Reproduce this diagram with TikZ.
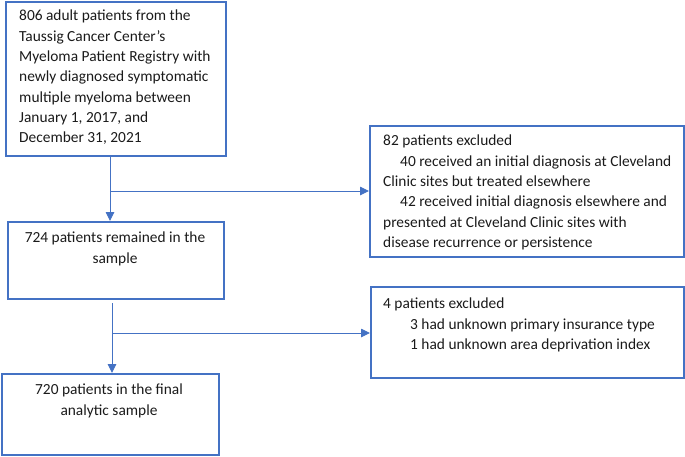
\documentclass[tikz,border=0pt]{standalone}
\usepackage{fontspec}
\setmainfont{Carlito}
\usetikzlibrary{arrows.meta}
\definecolor{bl}{HTML}{4472C4}
\definecolor{tx}{HTML}{1A1A1A}
\tikzset{
  boxs/.style={draw=bl, line width=1.6pt, rectangle, inner sep=0pt},
  txt/.style={inner sep=0pt, text=tx, font=\fontsize{15.4}{20.3}\selectfont},
  conn/.style={draw=bl, line width=0.9pt},
  arr/.style={conn, -{Triangle[length=9pt,width=8.5pt]}}
}
\begin{document}
\begin{tikzpicture}[x=1pt,y=-1pt]
\useasboundingbox (0,0) rectangle (685,456);
% boxes
\node[boxs, minimum width=220pt, minimum height=154pt, anchor=north west] (b1) at (5,1) {};
\node[boxs, minimum width=216pt, minimum height=77pt, anchor=north west] (b2) at (7,221) {};
\node[boxs, minimum width=314pt, minimum height=131pt, anchor=north west] (b3) at (369,125) {};
\node[boxs, minimum width=313pt, minimum height=91pt, anchor=north west] (b4) at (370,286) {};
\node[boxs, minimum width=217pt, minimum height=81pt, anchor=north west] (b5) at (1,373) {};
% texts
\node[txt, anchor=north west, align=left] (t1) at (19,10) {806 adult patients from the\\Taussig Cancer Center’s\\Myeloma Patient Registry with\\newly diagnosed symptomatic\\multiple myeloma between\\January 1, 2017, and\\December 31, 2021};
\node[txt, anchor=north, align=center] (t2) at (115,232) {724 patients remained in the\\sample};
\node[txt, anchor=north west, align=left] (t3) at (383,135) {82 patients excluded\\\hspace*{17pt}40 received an initial diagnosis at Cleveland\\Clinic sites but treated elsewhere\\\hspace*{17pt}42 received initial diagnosis elsewhere and\\presented at Cleveland Clinic sites with\\disease recurrence or persistence};
\node[txt, anchor=north west, align=left] (t4) at (383,298) {4 patients excluded\\\hspace*{27pt}3 had unknown primary insurance type\\\hspace*{27pt}1 had unknown area deprivation index};
\node[txt, anchor=north, align=center] (t5) at (109,384) {720 patients in the final\\analytic sample};
% connectors
\coordinate (s1) at (110,155);
\coordinate (e1) at (110,221);
\coordinate (j1) at (110,191);
\coordinate (s2) at (112,303);
\coordinate (e2) at (112,373);
\coordinate (j2) at (112,333);
\draw[arr] (s1) -- (e1);
\draw[arr] (j1) -- (j1 -| b3.west);
\draw[arr] (s2) -- (e2);
\draw[arr] (j2) -- (j2 -| b4.west);
\end{tikzpicture}
\end{document}
